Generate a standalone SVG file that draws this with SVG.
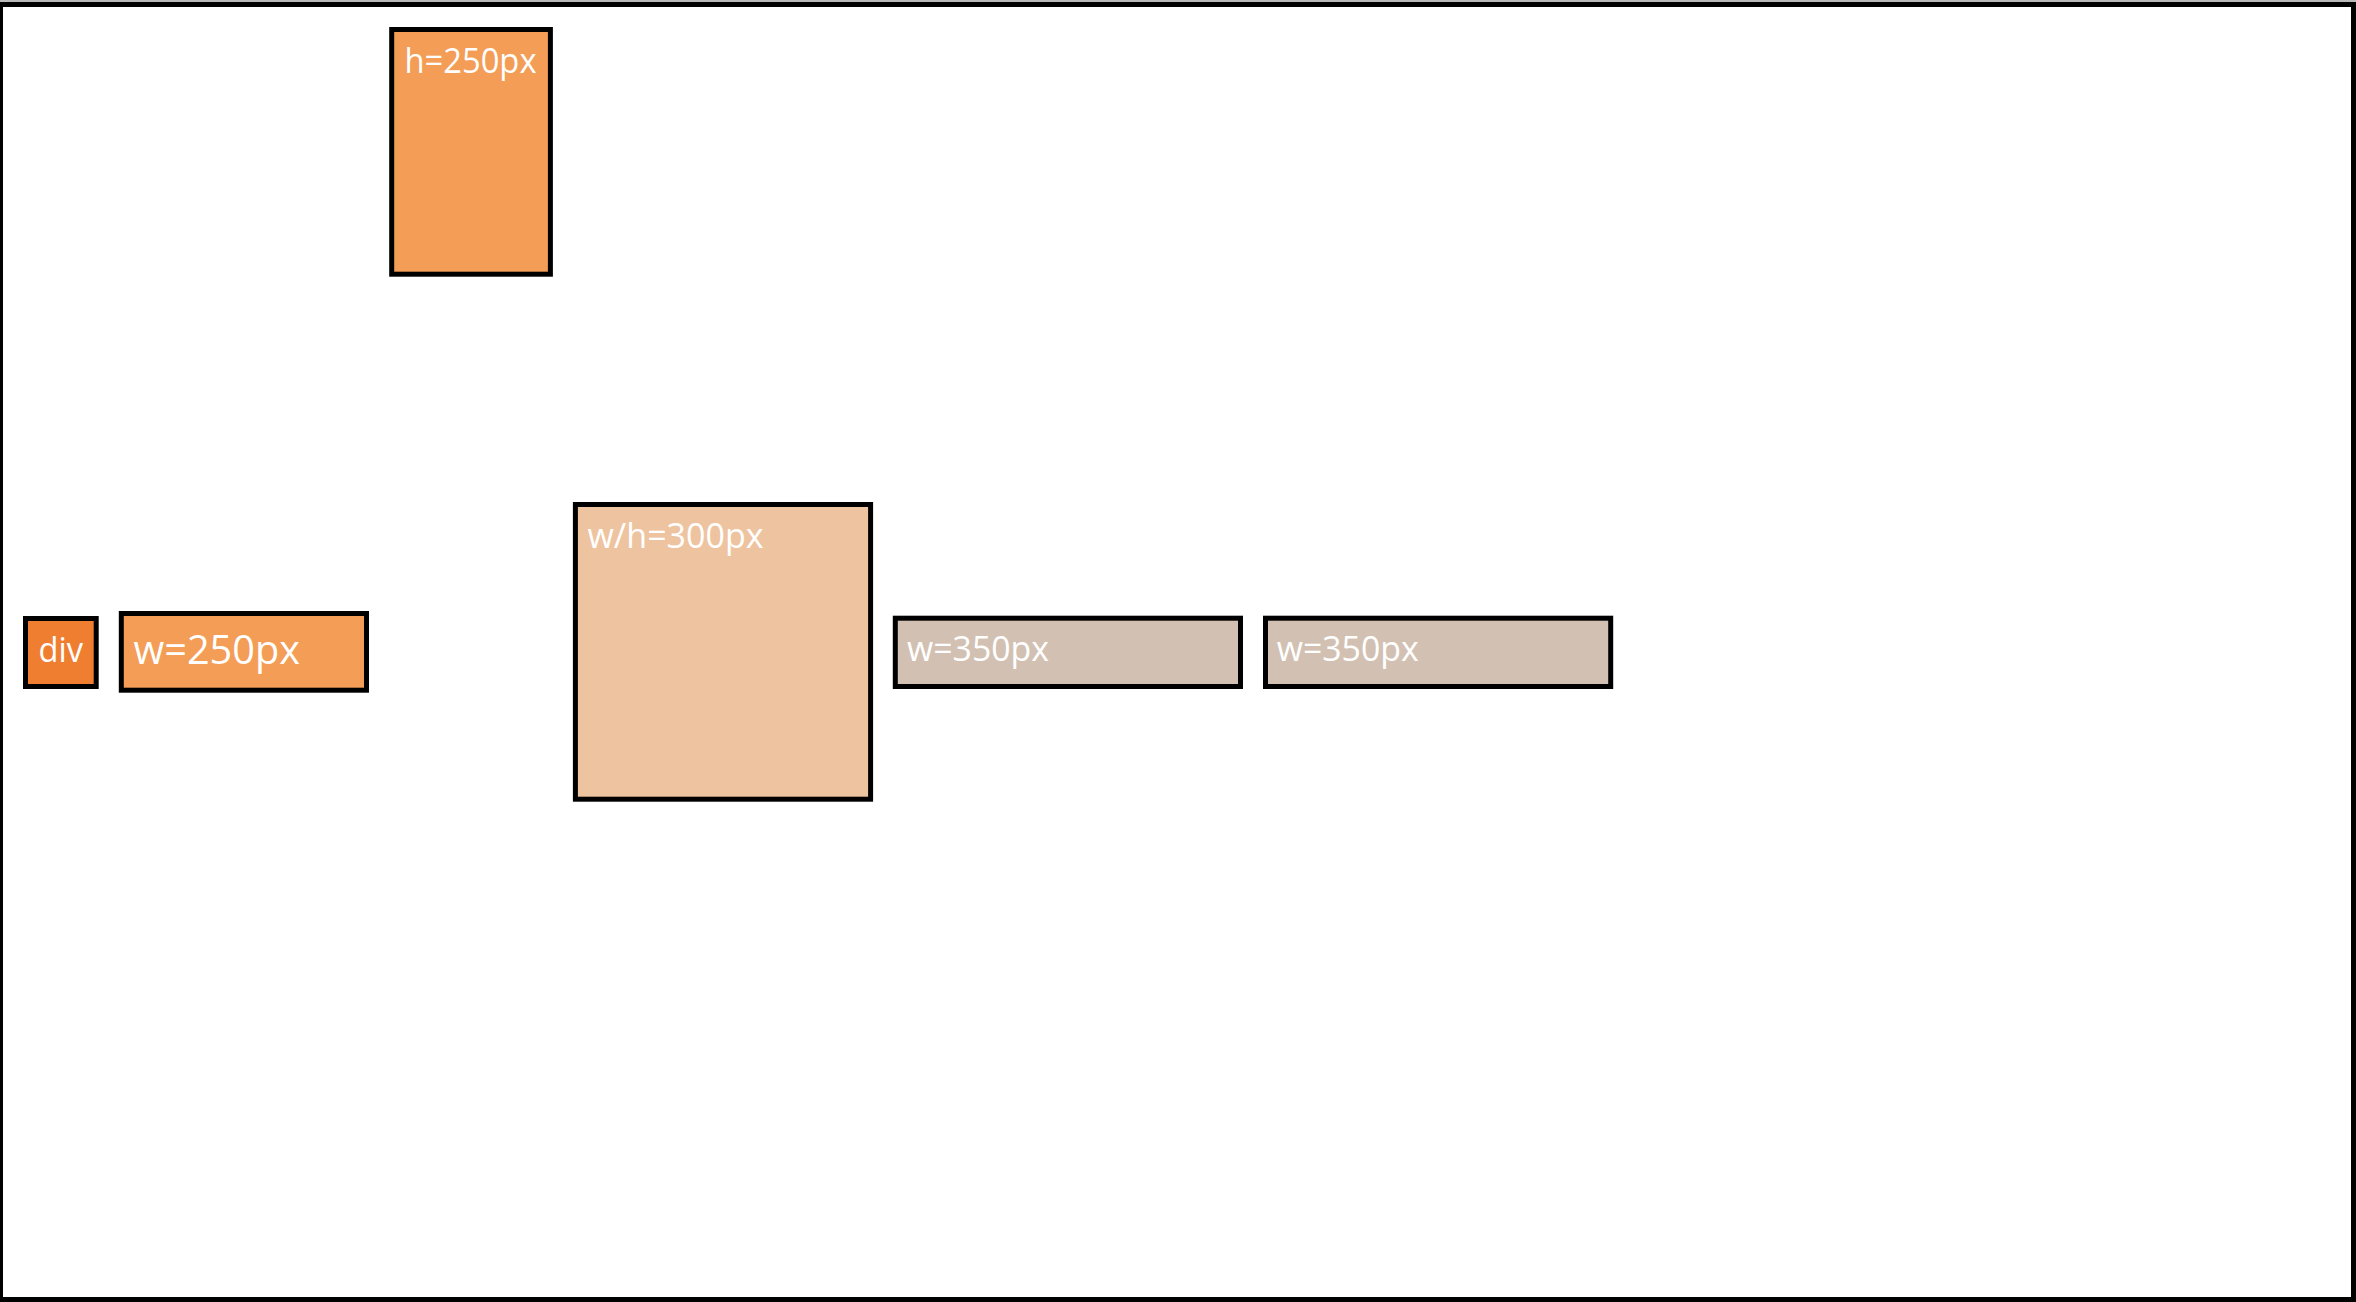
<svg xmlns="http://www.w3.org/2000/svg" width="2356" height="1302" viewBox="0 0 2356 1302">
<style>
.box{stroke:#000;stroke-width:5}
.t{fill:#fff;font-family:"Open Sans","Noto Sans",sans-serif}
</style>
<rect x="0" y="0" width="2356" height="1302" fill="#fff"/>
<rect x="0" y="0" width="2356" height="2" fill="#b8b8b8"/>
<rect id="frame" x="0.5" y="4.5" width="2353" height="1295" fill="none" stroke="#000" stroke-width="5"/>
<g id="connectors"></g>
<g id="node-h250">
<rect class="box" x="391.7" y="29.5" width="158.7" height="244.7" fill="#F39D56"/>
<text class="t" x="404.5" y="72.7" font-size="34.5" textLength="132" lengthAdjust="spacingAndGlyphs">h=250px</text>
</g>
<g id="node-div">
<rect class="box" x="25.5" y="618.5" width="70.7" height="68" fill="#F07E31"/>
<text class="t" x="38.5" y="661.7" font-size="34.5" textLength="44.5" lengthAdjust="spacingAndGlyphs">div</text>
</g>
<g id="node-w250">
<rect class="box" x="121.3" y="613.5" width="245.2" height="76.7" fill="#F39D56"/>
<text class="t" x="133.5" y="663.5" font-size="41" textLength="166.5" lengthAdjust="spacingAndGlyphs">w=250px</text>
</g>
<g id="node-wh300">
<rect class="box" x="575.4" y="504.5" width="295.2" height="294.7" fill="#EEC39F"/>
<text class="t" x="587.5" y="548.3" font-size="35" textLength="176" lengthAdjust="spacingAndGlyphs">w/h=300px</text>
</g>
<g id="node-w350a">
<rect class="box" x="895.3" y="618.2" width="345.2" height="68.3" fill="#D2C1B2"/>
<text class="t" x="907" y="661" font-size="35" textLength="142" lengthAdjust="spacingAndGlyphs">w=350px</text>
</g>
<g id="node-w350b">
<rect class="box" x="1265.5" y="618.2" width="345.2" height="68.3" fill="#D2C1B2"/>
<text class="t" x="1276.7" y="661" font-size="35" textLength="142" lengthAdjust="spacingAndGlyphs">w=350px</text>
</g>
</svg>
